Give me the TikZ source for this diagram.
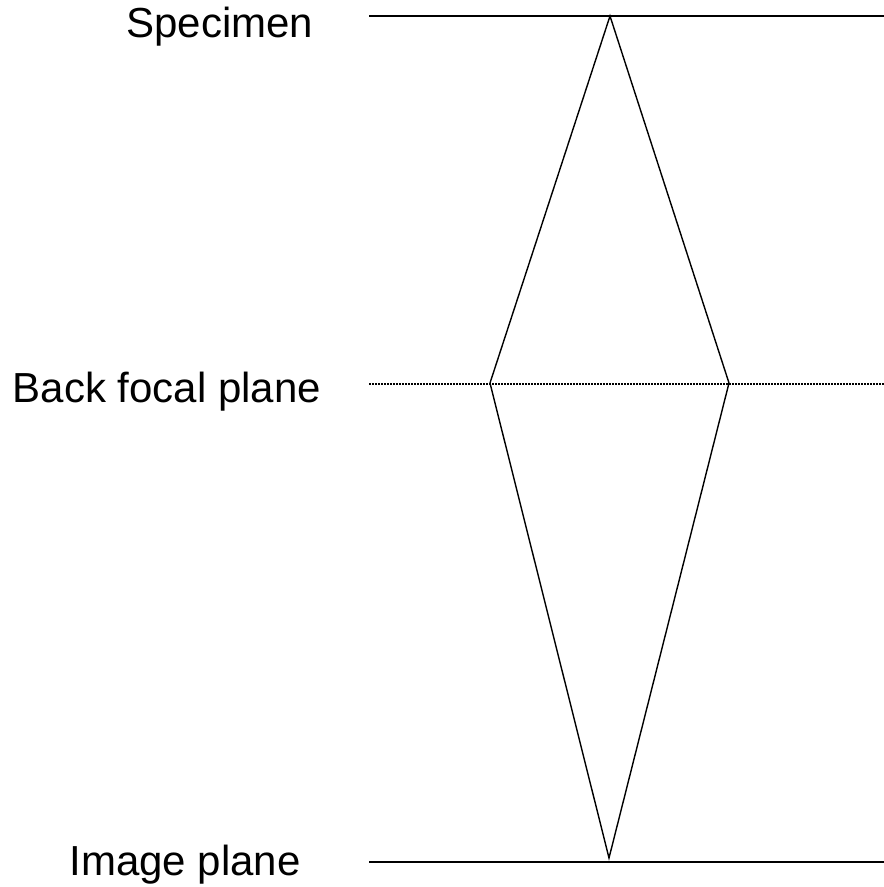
\documentclass[tikz,border=0pt]{standalone}
\usepackage{fontspec}
\setmainfont{Liberation Sans}
\begin{document}
\begin{tikzpicture}[x=1pt,y=-1pt,
  lbl/.style={font=\fontsize{42}{50}\selectfont, anchor=base, inner sep=0pt},
  plane/.style={line width=1.5pt, black},
  bfp/.style={line width=1.3pt, black, dash pattern=on 1.5pt off 1.5pt},
  ray/.style={line width=1.4pt, black}]
\useasboundingbox (0,0) rectangle (884,887);
\fill[white] (0,0) rectangle (884,887);
% labels
\node[lbl] (spec) at (220,37) {Specimen};
\node[lbl] (bfpl) at (167,402) {Back focal plane};
\node[lbl] (impl) at (185,875) {Image plane};
% plane ends
\coordinate (s1) at (369,16);
\coordinate (s2) at (884,16);
\coordinate (b1) at (369,384);
\coordinate (b2) at (884,384);
\coordinate (i1) at (369,862);
\coordinate (i2) at (884,862);
% ray vertices
\coordinate (top) at (610,16);
\coordinate (left) at (490,383);
\coordinate (right) at (729,383);
\coordinate (bot) at (609,858);
\draw[plane] (s1) -- (s2);
\draw[bfp] (b1) -- (b2);
\draw[plane] (i1) -- (i2);
\draw[ray] (top) -- (left) -- (bot) -- (right) -- cycle;
\end{tikzpicture}
\end{document}
